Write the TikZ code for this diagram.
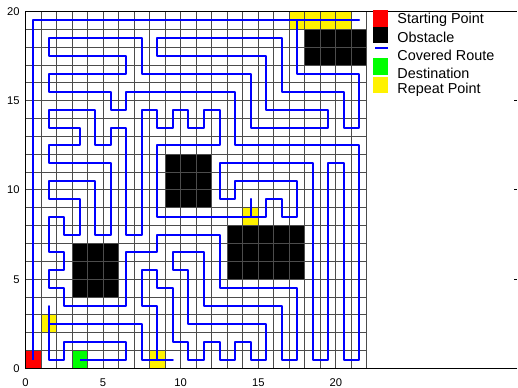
\documentclass[tikz,border=0pt]{standalone}
\usepackage{fontspec}
\setmainfont{Liberation Sans}
\begin{document}
\begin{tikzpicture}[x=7.76pt, y=8.925pt, font=\fontsize{5.6}{6.5}\selectfont]
\useasboundingbox (-1.643,-1.092) rectangle (31.733,20.644);

% --- Special cells ---
\fill[red] (0,0) rectangle (1,1);
\fill[green] (3,0) rectangle (4,1);
\foreach \i/\j in {8/0, 1/2, 14/8, 17/19, 18/19, 19/19, 20/19}
    \fill[yellow] (\i,\j) rectangle ++(1,1);

% --- Obstacles ---
\foreach \a/\b/\c/\d in {3/4/6/7, 9/9/12/12, 13/5/18/8, 18/17/22/19}
    \fill[black] (\a,\b) rectangle (\c,\d);

% --- Grid ---
\draw[black!70, line width=0.5pt, step=1] (0,0) grid (22,20);

% --- Covered route (cell centres) ---
\draw[blue, line width=1pt, line join=round, shift={(0.5,0.5)}]
    (0,0) -- (0,19) -- (21,19) -- (17,19) -- (17,16) -- (21,16) -- (21,13)
    -- (20,13) -- (20,15) -- (16,15) -- (16,18) -- (8,18) -- (8,17) -- (15,17)
    -- (15,14) -- (19,14) -- (19,13) -- (14,13) -- (14,16) -- (7,16) -- (7,18)
    -- (1,18) -- (1,17) -- (6,17) -- (6,16) -- (1,16) -- (1,15) -- (5,15)
    -- (5,14) -- (6,14) -- (6,15) -- (13,15) -- (13,12) -- (21,12) -- (21,0)
    -- (20,0) -- (20,11) -- (19,11) -- (19,0) -- (18,0) -- (18,11) -- (12,11)
    -- (12,9) -- (13,9) -- (13,10) -- (17,10) -- (17,8) -- (16,8) -- (16,9)
    -- (15,9) -- (15,8) -- (14,8) -- (14,9) -- (14,8) -- (8,8) -- (8,12)
    -- (12,12) -- (12,14) -- (11,14) -- (11,13) -- (10,13) -- (10,14) -- (9,14)
    -- (9,13) -- (8,13) -- (8,14) -- (7,14) -- (7,7) -- (6,7) -- (6,13)
    -- (5,13) -- (5,12) -- (4,12) -- (4,13) -- (4,14) -- (1,14) -- (1,13)
    -- (3,13) -- (3,12) -- (1,12) -- (1,11) -- (5,11) -- (5,7) -- (4,7)
    -- (4,10) -- (1,10) -- (1,9) -- (3,9) -- (3,7) -- (2,7) -- (2,8) -- (1,8)
    -- (1,6) -- (2,6) -- (2,5) -- (1,5) -- (1,4) -- (2,4) -- (2,3) -- (6,3)
    -- (6,6) -- (8,6) -- (8,7) -- (12,7) -- (12,4) -- (17,4) -- (17,0)
    -- (16,0) -- (16,3) -- (11,3) -- (11,6) -- (9,6) -- (9,5) -- (10,5)
    -- (10,2) -- (15,2) -- (15,0) -- (14,0) -- (14,1) -- (13,1) -- (13,0)
    -- (12,0) -- (12,1) -- (11,1) -- (11,0) -- (10,0) -- (10,1) -- (9,1)
    -- (9,4) -- (8,4) -- (8,5) -- (7,5) -- (7,3) -- (8,3) -- (8,0) -- (9,0)
    -- (8,0) -- (7,0) -- (7,2) -- (1,2) -- (1,3) -- (1,2) -- (1,0) -- (2,0)
    -- (2,1) -- (6,1) -- (6,0) -- (3,0);

% --- Axes ---
\draw[line width=0.5pt] (31.7,0) -- (0,0) -- (0,20) -- (31.7,20);
\foreach \t in {5,10,15}
    \draw[line width=0.5pt] (31.5,\t) -- (31.7,\t);
\foreach \t in {0,5,...,20}
    \node (xt\t) at (\t,-0.8) {\t};
\foreach \t in {0,5,...,20}
    \node[anchor=east, inner sep=0pt] (yt\t) at (-0.35,\t) {\t};

% --- Legend ---
\fill[red] (22.39,19.15) rectangle (23.36,20.08);
\fill[black] (22.39,18.22) rectangle (23.36,19.15);
\draw[blue, line width=1pt] (22.52,17.94) -- (23.36,17.94);
\fill[green] (22.39,16.44) rectangle (23.36,17.38);
\fill[yellow] (22.39,15.42) rectangle (23.36,16.35);
\begin{scope}[font=\fontsize{7.2}{8}\selectfont]
\node[anchor=west, inner sep=0pt] (lgstart) at (23.94,19.52) {Starting Point};
\node[anchor=west, inner sep=0pt] (lgobst) at (23.94,18.55) {Obstacle};
\node[anchor=west, inner sep=0pt] (lgroute) at (23.94,17.56) {Covered Route};
\node[anchor=west, inner sep=0pt] (lgdest) at (23.94,16.54) {Destination};
\node[anchor=west, inner sep=0pt] (lgrepeat) at (23.94,15.60) {Repeat Point};
\end{scope}
\end{tikzpicture}
\end{document}
